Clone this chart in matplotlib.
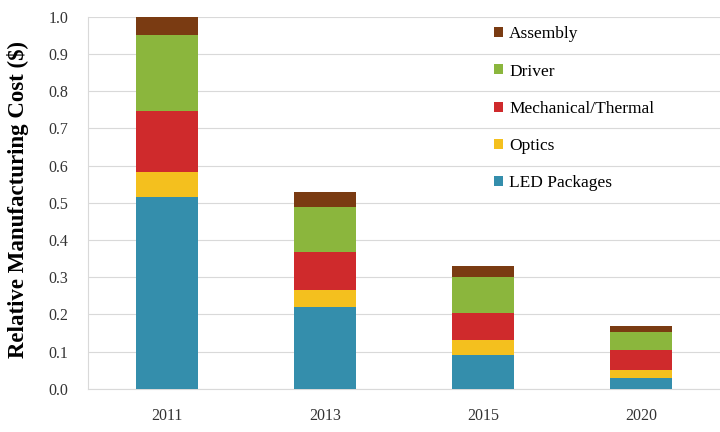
import matplotlib.pyplot as plt
import numpy as np

# --- data ---
years = ["2011", "2013", "2015", "2020"]
led_packages = [0.515, 0.22, 0.09, 0.03]
optics = [0.068, 0.046, 0.042, 0.021]
mechanical = [0.165, 0.102, 0.072, 0.054]
driver = [0.202, 0.122, 0.096, 0.048]
assembly = [0.05, 0.04, 0.03, 0.015]

series = [
    ("LED Packages", led_packages, "#348eac"),
    ("Optics", optics, "#f4c01e"),
    ("Mechanical/Thermal", mechanical, "#cf2a2c"),
    ("Driver", driver, "#8bb63d"),
    ("Assembly", assembly, "#7a3b12"),
]

plt.rcParams["font.family"] = ["Liberation Serif", "DejaVu Serif"]

fig = plt.figure(figsize=(7.2, 4.32), dpi=100)
ax = fig.add_axes([0.122, 0.1, 0.878, 0.861])

x = np.arange(len(years))
bottom = np.zeros(len(years))
handles = []
for name, vals, col in series:
    b = ax.bar(x, vals, width=0.39, bottom=bottom, color=col, label=name, zorder=3)
    handles.append(b)
    bottom += np.array(vals)

ax.set_ylim(0, 1.0)
ax.set_xlim(-0.5, 3.5)
ax.set_yticks(np.arange(0, 1.01, 0.1))
ax.set_yticklabels([f"{v:.1f}" for v in np.arange(0, 1.01, 0.1)])
ax.set_xticks(x)
ax.set_xticklabels(years)
ax.tick_params(axis="both", length=0, labelsize=11.5, colors="#333333")
ax.tick_params(axis="y", pad=14)
ax.tick_params(axis="x", pad=14)
ax.grid(axis="y", color="#d9d9d9", linewidth=0.8, zorder=0)
for s in ["top", "right"]:
    ax.spines[s].set_visible(False)
ax.spines["left"].set_color("#d9d9d9")
ax.spines["bottom"].set_color("#d9d9d9")

ax.set_ylabel("Relative Manufacturing Cost ($)", fontsize=16.5, fontweight="bold")
ax.yaxis.set_label_coords(-0.093, 0.51)

leg = ax.legend(
    handles[::-1],
    [s[0] for s in series][::-1],
    loc="upper left",
    bbox_to_anchor=(0.665, 0.975),
    bbox_transform=fig.transFigure,
    frameon=False,
    fontsize=12.5,
    handlelength=0.5,
    handleheight=0.5,
    handletextpad=0.35,
    labelspacing=1.22,
)

fig.savefig("out.png", dpi=100)
